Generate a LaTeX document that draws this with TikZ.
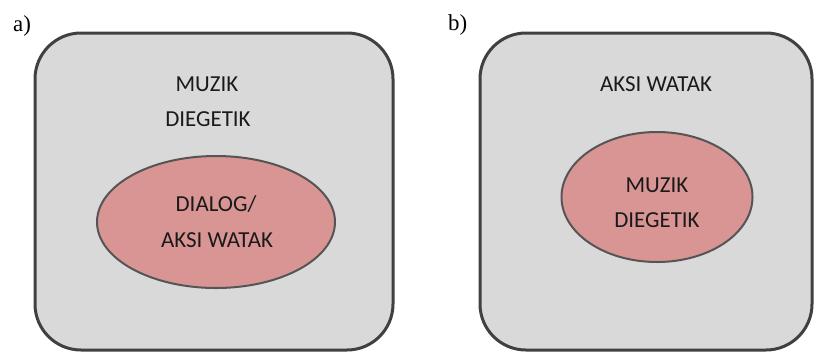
\documentclass[tikz,border=0pt]{standalone}
\usepackage{fontspec}
\setmainfont{Carlito}
\newfontfamily\labelfont{Liberation Serif}
\usetikzlibrary{shapes.geometric}
\definecolor{panelfill}{HTML}{D9D9D9}
\definecolor{panelline}{HTML}{404040}
\definecolor{corefill}{HTML}{D99594}
\definecolor{coreline}{HTML}{555555}
\definecolor{inktext}{HTML}{1A1A1A}
\begin{document}
\begin{tikzpicture}[x=1bp,y=-1bp,
  panel/.style={draw=panelline,fill=panelfill,line width=3bp,rounded corners=46bp},
  core/.style={ellipse,draw=coreline,fill=corefill,line width=2bp,inner sep=0pt},
  word/.style={anchor=base,inner sep=0pt,text=inktext,font=\fontsize{23}{28}\selectfont},
  tag/.style={anchor=base west,inner sep=0pt,font=\labelfont\fontsize{23}{28}\selectfont}]
\useasboundingbox (0,0) rectangle (814,352);

% panel a: diegetic music surrounding dialogue/character action
\node[tag] (taga) at (13,31) {a)};
\draw[panel] (35,33) rectangle (393,350);
\node[word] (a1) at (207,91) {MUZIK};
\node[word] (a2) at (208,126) {DIEGETIK};
\node[core,minimum width=238bp,minimum height=132bp] (ea) at (216,222) {};
\node[word] (a3) at (216,211) {DIALOG/};
\node[word] (a4) at (217,247) {AKSI WATAK};

% panel b: character action surrounding diegetic music
\node[tag] (tagb) at (448,30) {b)};
\draw[panel] (480,33) rectangle (812,350);
\node[word] (b1) at (656,91) {AKSI WATAK};
\node[core,minimum width=191bp,minimum height=130bp] (eb) at (657,197) {};
\node[word] (b2) at (657,192) {MUZIK};
\node[word] (b3) at (657,227) {DIEGETIK};
\end{tikzpicture}
\end{document}
